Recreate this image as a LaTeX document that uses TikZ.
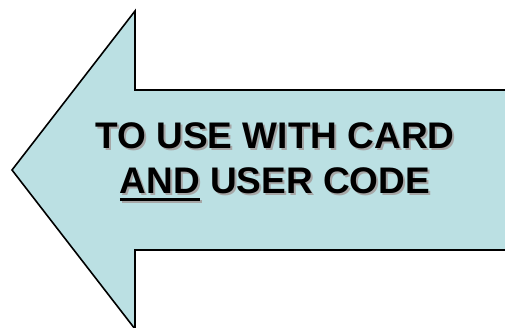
\documentclass[tikz,border=0pt]{standalone}
\usepackage{fontspec}
\setmainfont{Liberation Sans}
\definecolor{arrowblue}{HTML}{BBE0E3}
\newlength{\ulwidth}
\newcommand{\thickul}[1]{\settowidth{\ulwidth}{#1}\rlap{\rule[-8pt]{\ulwidth}{3pt}}#1}
\tikzset{
  label text/.style={font=\fontsize{37}{45}\selectfont\bfseries, align=center, inner sep=0pt},
}
\begin{document}
\begin{tikzpicture}[x=1pt, y=1pt]
\useasboundingbox (0,0) rectangle (505,327);
\clip (0,0) rectangle (505,327);
% block arrow pointing left
\draw[line width=1.6pt, fill=arrowblue, line join=miter](12,157)--(135,316)--(135,237)--(520,237)--(520,77)--(135,77)--(135,-2)--cycle;
% text with its shadow
\node[label text, text=black!35] (shadow) at (277,163) {TO USE WITH CARD\\\thickul{AND} USER CODE};
\node[label text] (label) at (275,165) {TO USE WITH CARD\\\thickul{AND} USER CODE};
\end{tikzpicture}
\end{document}
